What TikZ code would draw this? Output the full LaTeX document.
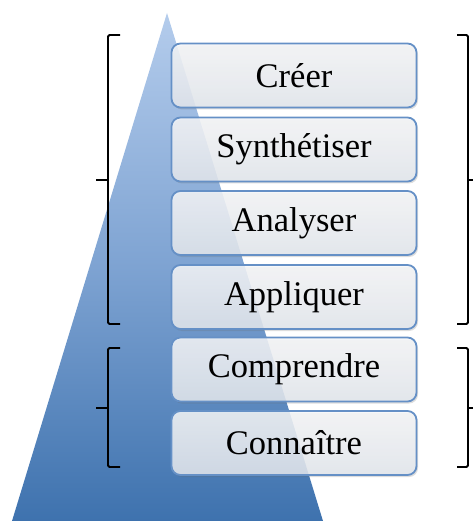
\documentclass[tikz,border=0pt]{standalone}
\usepackage{fontspec}
\setmainfont{Liberation Serif}
\usetikzlibrary{shadows}
\definecolor{tritop}{HTML}{B4CCEC}
\definecolor{trimid}{HTML}{7EA3D2}
\definecolor{tribot}{HTML}{3E72AE}
\definecolor{boxedge}{HTML}{6590C6}
\definecolor{boxtop}{HTML}{F6F7F9}
\definecolor{boxbot}{HTML}{E4E8EE}
\tikzset{
  levelbox/.style={draw=boxedge, line width=1.8pt, rounded corners=9pt,
    minimum width=245pt, minimum height=64pt, inner sep=0pt,
    top color=boxtop, bottom color=boxbot, fill opacity=0.86, text opacity=1,
    font=\fontsize{34.5}{34.5}\selectfont,
    drop shadow={shadow xshift=1.5pt, shadow yshift=-2pt, opacity=0.22, fill=black!60}},
  brk/.style={draw=black, line width=1.9pt, rounded corners=1.5pt},
  tick/.style={draw=black, line width=2.4pt}
}
\begin{document}
\begin{tikzpicture}[x=1pt,y=-1pt]
\useasboundingbox (0,0) rectangle (472,521);
% pyramid
\coordinate (apex) at (167,13);
\coordinate (bl) at (12,521);
\coordinate (br) at (323,521);
\shade[top color=tritop, bottom color=tribot, middle color=trimid] (apex) -- (br) -- (bl) -- cycle;
% boxes
\node[levelbox] (b1) at (294,75.5) {Créer};
\node[levelbox] (b2) at (294,149.5) {Synthétiser};
\node[levelbox] (b3) at (294,223) {Analyser};
\node[levelbox] (b4) at (294,297) {Appliquer};
\node[levelbox] (b5) at (294,369.5) {Comprendre};
\node[levelbox] (b6) at (294,443) {Connaître};
% brackets
\draw[brk] (120,35) -- (108,35) -- (108,324) -- (120,324);
\draw[tick] (109,180) -- (96,180);
\draw[brk] (457,35) -- (468,35) -- (468,324) -- (457,324);
\draw[tick] (467,180) -- (473,180);
\draw[brk] (120,348) -- (108,348) -- (108,467) -- (120,467);
\draw[tick] (109,408) -- (96,408);
\draw[brk] (457,348) -- (468,348) -- (468,467) -- (457,467);
\draw[tick] (467,408) -- (473,408);
\end{tikzpicture}
\end{document}
